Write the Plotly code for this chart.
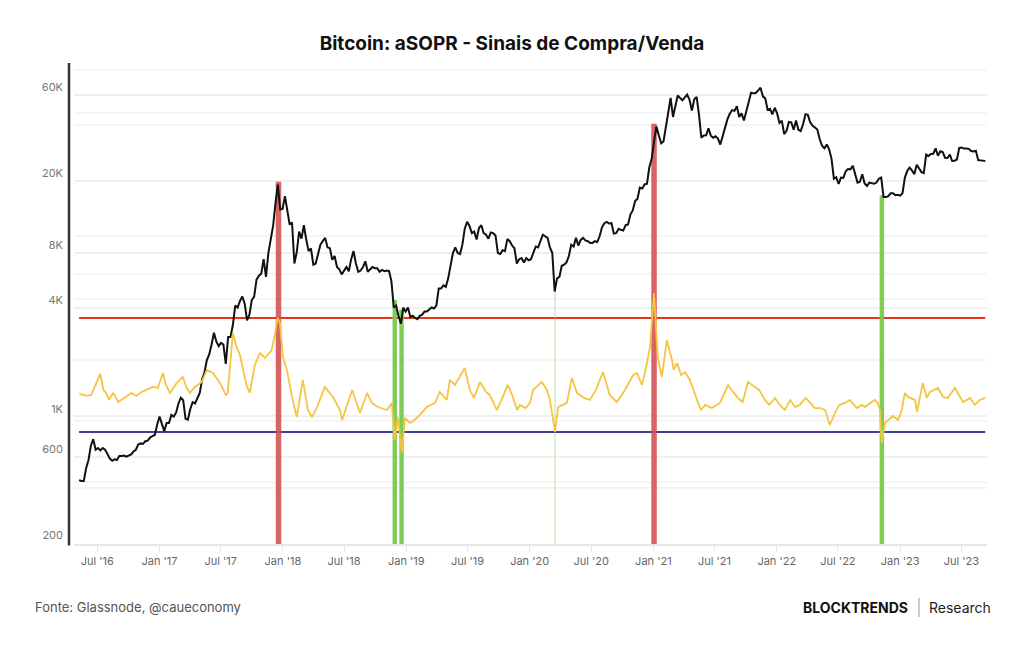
import pandas as pd
import plotly.graph_objects as go

# ---------------- DATA ----------------
# weekly BTC price (USD), each array starts on the given Sunday
price_2016_start = "2016-05-08"
price_2016 = [445, 440, 440, 520, 575, 690, 750, 655, 670, 650, 670, 655, 620,
              585, 570, 580, 575, 605, 605, 608, 600, 612, 618, 640, 655, 700,
              710, 705, 730, 735, 765, 780, 790, 900]
price_2017_start = "2017-01-01"
price_2017 = [1000, 910, 830, 920, 920, 1020, 1000, 1050, 1180, 1270, 1230, 970, 960,
              1100, 1200, 1180, 1250, 1350, 1600, 1750, 2050, 2200, 2500, 2900, 2600, 2450,
              2550, 2500, 1950, 2750, 2750, 3200, 4100, 4000, 4350, 4600, 4200, 3400, 3650,
              4400, 4600, 5700, 6000, 6150, 7400, 5900, 8000, 9300, 11300, 15000, 19100, 13900, 14000]
price_2018_start = "2018-01-07"
price_2018 = [16500, 13800, 11500, 11800, 7000, 8100, 10500, 9600, 11400, 9500, 8200, 8500,
              6900, 7000, 8000, 8900, 9300, 9700, 8600, 8500, 7350, 7700, 6700, 6500, 6100,
              6400, 6700, 6350, 7400, 8200, 7000, 6300, 6400, 6700, 7200, 6300, 6500, 6700, 6600,
              6600, 6300, 6450, 6350, 6400, 6350, 5600, 4000, 4100, 3600, 3250, 4000, 3800]
price_2019_start = "2019-01-06"
price_2019 = [4000, 3550, 3600, 3500, 3450, 3600, 3650, 3800, 3800, 3900, 4000, 3950, 4100,
              5100, 5100, 5300, 5200, 5800, 6800, 8000, 8600, 8000, 7900, 8900, 10900, 11900,
              11300, 10300, 10500, 9500, 11000, 11400, 10300, 10100, 9600, 10400, 10300, 10000, 8000,
              7900, 8300, 8200, 9550, 9300, 8800, 8500, 7000, 7400, 7500, 7100, 7500, 7300]
price_2020_start = "2020-01-05"
price_2020 = [7400, 8100, 8700, 8600, 9400, 10100, 9900, 9700, 8600, 8000, 4900, 5800, 5900,
              6800, 6900, 7100, 7700, 8900, 8700, 9700, 8800, 9450, 9700, 9400, 9300, 9100,
              9100, 9300, 9200, 9900, 11100, 11700, 11900, 11650, 11700, 10250, 10300, 10900, 10750,
              10650, 11400, 11500, 13050, 13750, 15500, 15950, 18400, 18200, 19150, 19300, 23800, 26500]
price_2021_start = "2021-01-03"
price_2021 = [33000, 40000, 35800, 32300, 33100, 39300, 48700, 57500, 45200, 51200, 59300, 57500, 55900,
              57900, 60000, 56200, 49000, 56600, 58300, 46400, 34700, 35700, 35800, 39100, 35600, 34700,
              35300, 34300, 31800, 35400, 39900, 43800, 47000, 49300, 48800, 51800, 45200, 47300, 43200,
              48200, 54900, 61500, 61000, 61300, 63300, 65500, 58700, 57200, 49400, 50100, 46700, 50800]
price_2022_start = "2022-01-02"
price_2022 = [47300, 41900, 43100, 36300, 37900, 42400, 42200, 38400, 43200, 38400, 37800, 41300, 46800,
              46400, 42200, 40400, 39500, 38500, 34100, 31300, 30300, 31800, 29900, 26600, 20600, 21000,
              19300, 20900, 20800, 22600, 23300, 23200, 24300, 21500, 19600, 19800, 21800, 19400, 18800,
              19600, 19400, 19300, 19600, 20600, 20900, 16300, 16300, 16500, 17100, 17100, 16700, 16800]
price_2023_start = "2023-01-01"
price_2023 = [16600, 17100, 20900, 22700, 23700, 22900, 21800, 24600, 23500, 22400, 22100, 28000, 27500,
              28200, 28300, 30300, 27600, 29200, 28900, 26900, 26800, 28000, 25800, 25900, 26300, 30500,
              30600, 30200, 30200, 30100, 29300, 29100, 29400, 26100, 26000, 25800, 25800]

# aSOPR readings
asopr_dates = ["2016-05-09", "2016-06-01", "2016-06-13", "2016-06-25", "2016-07-10", "2016-07-19", "2016-07-27",
               "2016-08-05", "2016-08-17", "2016-09-01", "2016-09-25", "2016-10-10", "2016-10-24", "2016-11-08",
               "2016-11-23", "2016-12-12", "2016-12-27", "2017-01-05", "2017-01-11", "2017-01-20", "2017-02-01",
               "2017-02-21", "2017-03-11", "2017-03-22", "2017-04-01", "2017-04-16", "2017-05-06", "2017-05-21",
               "2017-06-08", "2017-06-29", "2017-07-16", "2017-07-22", "2017-08-06", "2017-08-15", "2017-08-27",
               "2017-09-15", "2017-09-25", "2017-10-10", "2017-10-25", "2017-11-09", "2017-11-29", "2017-12-08",
               "2017-12-16", "2017-12-23", "2018-01-01", "2018-01-13", "2018-01-28", "2018-02-11", "2018-03-01",
               "2018-03-16", "2018-03-28", "2018-04-12", "2018-05-05", "2018-05-29", "2018-06-19", "2018-06-25",
               "2018-07-25", "2018-08-17", "2018-09-07", "2018-09-21", "2018-10-09", "2018-11-05", "2018-11-19",
               "2018-11-28", "2018-12-07", "2018-12-19", "2018-12-28", "2019-01-12", "2019-02-01", "2019-03-03",
               "2019-03-27", "2019-04-10", "2019-05-01", "2019-05-10", "2019-05-25", "2019-06-23", "2019-07-08",
               "2019-07-20", "2019-08-07", "2019-08-25", "2019-09-05", "2019-09-26", "2019-10-10", "2019-10-28",
               "2019-11-10", "2019-11-25", "2019-12-03", "2019-12-20", "2020-01-02", "2020-01-11", "2020-02-06",
               "2020-02-21", "2020-03-01", "2020-03-16", "2020-03-25", "2020-04-08", "2020-04-20", "2020-05-05",
               "2020-05-20", "2020-06-10", "2020-06-27", "2020-07-15", "2020-08-05", "2020-08-25", "2020-09-15",
               "2020-10-09", "2020-10-24", "2020-11-02", "2020-11-13", "2020-11-28", "2020-12-07", "2020-12-22",
               "2021-01-03", "2021-01-09", "2021-01-14", "2021-01-26", "2021-02-10", "2021-02-25", "2021-03-02",
               "2021-03-12", "2021-03-24", "2021-04-05", "2021-04-19", "2021-05-10", "2021-05-22", "2021-06-03",
               "2021-06-23", "2021-07-17", "2021-08-10", "2021-08-25", "2021-09-08", "2021-09-22", "2021-10-08",
               "2021-10-20", "2021-11-10", "2021-11-27", "2021-12-10", "2021-12-27", "2022-01-10", "2022-01-25",
               "2022-02-10", "2022-02-24", "2022-03-10", "2022-03-28", "2022-04-24", "2022-05-10", "2022-05-24",
               "2022-06-07", "2022-06-15", "2022-06-22", "2022-07-05", "2022-07-22", "2022-08-05", "2022-08-26",
               "2022-09-10", "2022-09-19", "2022-10-05", "2022-10-18", "2022-10-27", "2022-11-02", "2022-11-08",
               "2022-11-17", "2022-12-11", "2022-12-26", "2023-01-06", "2023-01-15", "2023-01-24", "2023-02-14",
               "2023-02-20", "2023-03-01", "2023-03-09", "2023-03-21", "2023-03-30", "2023-04-23", "2023-05-08",
               "2023-05-22", "2023-06-12", "2023-07-06", "2023-07-27", "2023-08-10", "2023-08-25", "2023-09-10"]
asopr_vals = [0.9867, 0.9853, 0.986, 0.993, 1.0007, 0.9895, 0.9874,
              0.9825, 0.9874, 0.981, 0.9853, 0.9874, 0.9853, 0.988,
              0.9895, 0.9916, 0.9909, 0.9965, 1.0014, 0.993, 0.9874,
              0.9944, 0.9986, 0.991, 0.9874, 0.9916, 0.9951, 1.0035,
              1.0014, 0.9944, 0.986, 0.9874, 1.0295, 1.021, 1.014,
              0.993, 0.9874, 1.007, 1.0154, 1.0119, 1.0175, 1.028,
              1.040, 1.0372, 1.0126, 1.0035, 0.9846, 0.9705, 0.9965,
              0.9754, 0.9705, 0.9775, 0.9916, 0.9846, 0.9754, 0.9684,
              0.9895, 0.9733, 0.9874, 0.9804, 0.9775, 0.9754, 0.9804,
              0.9544, 0.9705, 0.9453, 0.9698, 0.9663, 0.9698, 0.9775,
              0.9804, 0.9881, 0.9825, 0.9965, 0.993, 1.0049, 0.9895,
              0.9839, 0.9951, 0.9881, 0.986, 0.9754, 0.9825, 0.993,
              0.986, 0.9754, 0.979, 0.9768, 0.9804, 0.9895, 0.9951,
              0.9895, 0.9825, 0.960, 0.9775, 0.979, 0.9804, 0.9979,
              0.9874, 0.9839, 0.9825, 0.9895, 1.0021, 0.986, 0.981,
              0.9895, 0.9965, 1.000, 1.0014, 0.993, 1.0014, 1.0196,
              1.0575, 1.0295, 1.0126, 0.9986, 1.0246, 1.0105, 1.0035,
              1.0084, 1.000, 1.0021, 0.9965, 0.9825, 0.9754, 0.979,
              0.9768, 0.9804, 0.993, 0.9881, 0.9839, 0.981, 0.9951,
              0.993, 0.9895, 0.9825, 0.979, 0.9839, 0.979, 0.9754,
              0.9825, 0.9775, 0.979, 0.9839, 0.9768, 0.9768, 0.9754,
              0.9649, 0.9698, 0.9733, 0.979, 0.9804, 0.9825, 0.9768,
              0.979, 0.9775, 0.9804, 0.9825, 0.9804, 0.9754, 0.9523,
              0.9663, 0.9712, 0.9684, 0.9754, 0.9874, 0.9846, 0.9825,
              0.974, 0.986, 0.9944, 0.9839, 0.9881, 0.9909, 0.9846,
              0.9839, 0.9909, 0.981, 0.9839, 0.979, 0.9825, 0.9839]

# signal thresholds on aSOPR
sell_threshold = 1.04
buy_threshold = 0.96

# signal markers: date, price reached, kind
signal_dates = ["2017-12-19", "2018-11-28", "2018-12-18", "2020-03-16", "2021-01-03", "2022-11-08"]
signal_tops = [19800, 4400, 3900, 4900, 41500, 16700]
signal_kind = ["sell", "buy", "buy", "weak", "sell", "buy"]

y_tick_vals = [200, 600, 1000, 4000, 8000, 20000, 60000]
y_tick_text = ["200", "600", "1K", "4K", "8K", "20K", "60K"]
grid_extra = [82000, 47500, 40800, 9900, 6100, 4450, 2050, 944, 434, 403]

# ---------------- BUILD ----------------
starts = [price_2016_start, price_2017_start, price_2018_start, price_2019_start,
          price_2020_start, price_2021_start, price_2022_start, price_2023_start]
arrays = [price_2016, price_2017, price_2018, price_2019, price_2020, price_2021, price_2022, price_2023]
p_dates, p_vals = [], []
for s, a in zip(starts, arrays):
    p_dates += list(pd.date_range(s, periods=len(a), freq="7D"))
    p_vals += a

style = {
    "sell": dict(color="rgba(212,78,80,0.88)", width=5.5),
    "buy": dict(color="rgba(118,200,72,0.92)", width=4.5),
    "weak": dict(color="rgba(150,215,120,0.55)", width=1.2),
}

LOG_LO, LOG_HI = 2.2955, 4.953
fig = go.Figure()

for d, top, k in zip(signal_dates, signal_tops, signal_kind):
    fig.add_trace(go.Scatter(x=[d, d], y=[10 ** LOG_LO * 0.9, top], mode="lines",
                             line=style[k], hoverinfo="skip", yaxis="y"))

fig.add_trace(go.Scatter(x=p_dates, y=p_vals, mode="lines",
                         line=dict(color="#111111", width=2), name="Preço", yaxis="y"))

fig.add_trace(go.Scatter(x=pd.to_datetime(asopr_dates), y=asopr_vals, mode="lines",
                         line=dict(color="#F5C443", width=1.8), name="aSOPR", yaxis="y2"))

shapes = []
for v, c in [(sell_threshold, "#E8341C"), (buy_threshold, "#3E3F8F")]:
    shapes.append(dict(type="line", xref="x", yref="y2", x0=p_dates[0], x1=p_dates[-1],
                       y0=v, y1=v, line=dict(color=c, width=2), layer="below"))
# vertical axis line
shapes.append(dict(type="line", xref="paper", yref="paper", x0=-5 / 913, x1=-5 / 913,
                   y0=-0.003, y1=1, line=dict(color="#333333", width=2.5), layer="above"))
# footer separator
shapes.append(dict(type="line", xref="paper", yref="paper", x0=(919 - 74) / 913, x1=(919 - 74) / 913,
                   y0=(544 - 598) / 481, y1=(544 - 617) / 481, line=dict(color="#999999", width=1),
                   layer="above"))

fig.update_layout(
    width=1024, height=645,
    margin=dict(l=74, r=37, t=63, b=101),
    paper_bgcolor="white", plot_bgcolor="white",
    showlegend=False,
    font=dict(family="Inter, Roboto, sans-serif"),
    title=dict(text="<b>Bitcoin: aSOPR - Sinais de Compra/Venda</b>", x=0.5, xref="container",
               y=1 - 43 / 645, yref="container", xanchor="center", yanchor="middle",
               font=dict(size=19, color="#111111", family="Inter")),
    xaxis=dict(type="date", range=["2016-04-23", "2023-09-15"], tick0="2016-07-01", dtick="M6",
               tickformat="%b '%y", ticks="outside", ticklen=6, tickcolor="#e6e6e6",
               showline=True, linecolor="#e6e6e6", linewidth=2, showgrid=False, zeroline=False,
               tickfont=dict(size=11, color="#666666")),
    yaxis=dict(type="log", range=[LOG_LO, LOG_HI], tickmode="array", tickvals=y_tick_vals,
               ticktext=y_tick_text, showgrid=True, gridcolor="#f0f0f0", gridwidth=1.5,
               zeroline=False, showline=False, ticks="", ticklabelposition="outside top",
               ticklabelstandoff=10,
               tickfont=dict(size=11, color="#777777"),
               minor=dict(tickmode="array", tickvals=grid_extra, showgrid=True,
                          gridcolor="#f5f5f5", gridwidth=1.5, ticks="")),
    yaxis2=dict(overlaying="y", range=[0.8814, 1.2189], visible=False),
    shapes=shapes,
    annotations=[
        dict(text="Fonte: Glassnode, @caueconomy", xref="paper", yref="paper",
             x=(33 - 74) / 913, y=(544 - 607) / 481, xanchor="left", yanchor="middle",
             showarrow=False, font=dict(size=13, color="#555555", family="Inter")),
        dict(text="<b>BLOCKTRENDS</b>", xref="paper", yref="paper",
             x=(910 - 74) / 913, y=(544 - 607) / 481, xanchor="right", yanchor="middle",
             showarrow=False, font=dict(size=14, color="#111111", family="Inter")),
        dict(text="Research", xref="paper", yref="paper",
             x=(927 - 74) / 913, y=(544 - 607) / 481, xanchor="left", yanchor="middle",
             showarrow=False, font=dict(size=14, color="#222222", family="Inter")),
    ],
)

fig.write_html("out.html")
